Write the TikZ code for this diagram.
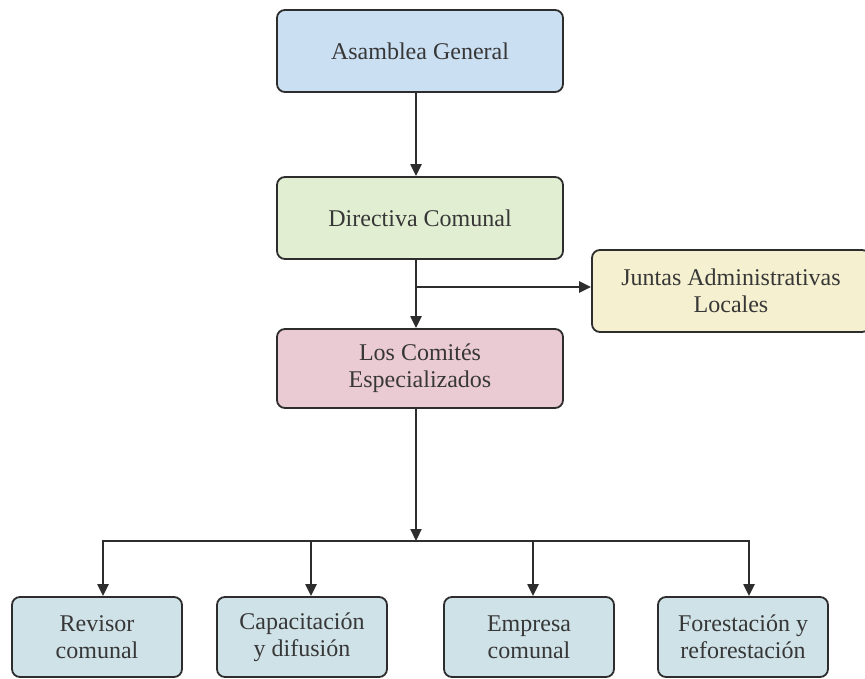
\documentclass[tikz,border=0pt]{standalone}
\usepackage{fontspec}
\setmainfont{Liberation Serif}
\usetikzlibrary{arrows.meta,calc}
\definecolor{cAsam}{RGB}{202,223,242}
\definecolor{cDir}{RGB}{226,238,210}
\definecolor{cJun}{RGB}{245,240,207}
\definecolor{cCom}{RGB}{235,203,211}
\definecolor{cBot}{RGB}{207,226,232}
\definecolor{linec}{RGB}{45,45,45}
\definecolor{textc}{RGB}{55,55,55}
\begin{document}
\begin{tikzpicture}[x=1pt,y=1pt,
  box/.style={draw=linec, line width=1.8pt, rounded corners=8pt, align=center,
    text=textc, font=\fontsize{24}{27}\selectfont, inner sep=0pt, minimum height=82pt},
  conn/.style={line width=2.2pt, draw=linec},
  arr/.style={conn, -{Triangle[length=12pt,width=11pt]}}]
\useasboundingbox (0,0) rectangle (865,-679);
\fill[white] (0,0) rectangle (865,-679);
\node[box, fill=cAsam, minimum width=286pt] (asam) at (420,-51) {Asamblea General};
\node[box, fill=cDir, minimum width=286pt] (dir) at (420,-218) {Directiva Comunal};
\node[box, fill=cJun, minimum width=278pt] (jun) at (731,-291) {Juntas Administrativas\\Locales};
\node[box, fill=cCom, minimum width=286pt, minimum height=79pt] (com) at (420,-368.5) {Los Comités\\Especializados};
\node[box, fill=cBot, minimum width=170pt, minimum height=80pt] (rev) at (97,-637) {Revisor\\comunal};
\node[box, fill=cBot, minimum width=170pt, minimum height=80pt] (cap) at (302,-637) {Capacitación\\y difusión};
\node[box, fill=cBot, minimum width=170pt, minimum height=80pt] (emp) at (529,-637) {Empresa\\comunal};
\node[box, fill=cBot, minimum width=170pt, minimum height=80pt] (for) at (743,-637) {Forestación y\\reforestación};
\coordinate (col) at (416,0);
\coordinate (br) at (416,-287);
\coordinate (hub) at (416,-541);
\coordinate (h1) at (103,-541);
\coordinate (h2) at (311,-541);
\coordinate (h3) at (533,-541);
\coordinate (h4) at (749,-541);
\draw[arr] (asam.south -| col) -- (dir.north -| col);
\draw[arr] (dir.south -| col) -- (com.north -| col);
\draw[arr] (br) -- (br -| jun.west);
\draw[arr] (com.south -| col) -- (hub);
\draw[conn, line cap=rect] (h1) -- (h4);
\draw[arr] (h1) -- (h1 |- rev.north);
\draw[arr] (h2) -- (h2 |- cap.north);
\draw[arr] (h3) -- (h3 |- emp.north);
\draw[arr] (h4) -- (h4 |- for.north);
\end{tikzpicture}
\end{document}
